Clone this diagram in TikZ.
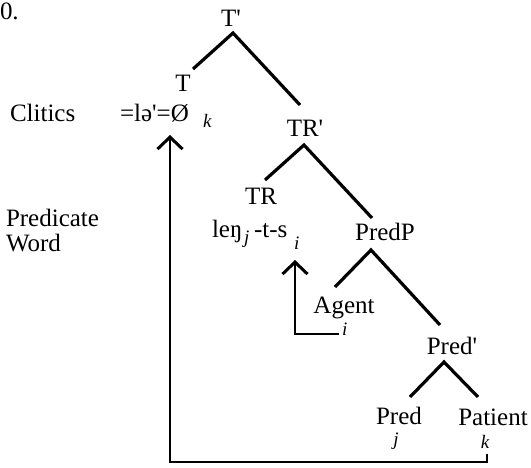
\documentclass[tikz,border=0pt]{standalone}
\usepackage{fontspec}
\setmainfont{Liberation Serif}
\usetikzlibrary{arrows.meta,calc}
\newcommand{\pr}{\textquotesingle}
\begin{document}
\begin{tikzpicture}[x=1pt,y=-1pt,
  lab/.style={inner sep=0pt,outer sep=0pt,anchor=base,font=\fontsize{25}{25}\selectfont},
  labw/.style={lab,anchor=base west},
  idx/.style={inner sep=0pt,outer sep=0pt,anchor=base,font=\fontsize{19}{19}\selectfont\itshape},
  idxw/.style={idx,anchor=base west},
  edge/.style={line width=3.2pt,line join=miter},
  mv/.style={line width=2.6pt,-{Straight Barb[length=12pt,width=25pt,line width=3pt]}}]
\useasboundingbox (0,0) rectangle (531,468);

% example number and row labels
\node[labw] (num) at (0,20) {0.};
\node[labw] (clit) at (10,122) {Clitics};
\node[labw] (pr) at (6,227) {Predicate};
\node[labw] (wd) at (6,252) {Word};

% tree labels
\node[lab] (Tp) at (231,27) {T\pr};
\node[lab] (T) at (183,92) {T};
\node[labw] (cl) at (120,122) {=lə\pr=Ø};
\node[idxw] (ck) at (203,128) {k};
\node[lab] (TRp) at (305,137) {TR\pr};
\node[lab] (TR) at (261,205) {TR};
\node[labw] (len) at (212,238) {leŋ};
\node[idxw] (lj) at (244,244) {j};
\node[labw] (lts) at (254,238) {-t-s};
\node[idxw] (li) at (294,250) {i};
\node[lab] (PP) at (385,241) {PredP};
\node[lab] (Ag) at (344,313) {Agent};
\node[idxw] (ai) at (342,336) {i};
\node[lab] (Pb) at (452,355) {Pred\pr};
\node[lab] (Pr) at (399,424) {Pred};
\node[lab] (Pt) at (493,425) {Patient};
\node[idx] (pj) at (396,445) {j};
\node[idx] (pk) at (485,448) {k};

% branches
\draw[edge] ($(T.base)+(10,-23)$) -- ($(Tp.base)+(2,6)$) -- ($(TRp.base)+(-5,-32)$);
\draw[edge] ($(TR.base)+(4,-25)$) -- ($(TRp.base)+(-1,8)$) -- ($(PP.base)+(-13,-23)$);
\draw[edge] ($(Ag.base)+(-9,-26)$) -- ($(PP.base)+(-14,9)$) -- ($(Pb.base)+(-12,-30)$);
\draw[edge] ($(Pr.base)+(11,-27)$) -- ($(Pb.base)+(-8,7)$) -- ($(Pt.base)+(-15,-28)$);

% movement arrows
\draw[mv] ($(ai.base west)+(-3,-2)$) -| ($(li.base west)+(1,10)$);
\draw[mv] ($(pk.base)+(2,6)$) -- ++(0,8) -| ($(cl.base west)+(50,13)$);
\end{tikzpicture}
\end{document}
